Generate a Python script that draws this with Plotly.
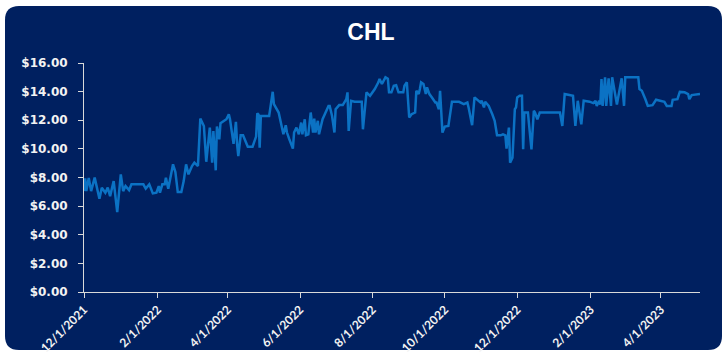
import plotly.graph_objects as go

# CHL closing price
dates = [
    "2021-12-01", "2021-12-02", "2021-12-03", "2021-12-05", "2021-12-07", "2021-12-10",
    "2021-12-14", "2021-12-16", "2021-12-19", "2021-12-21", "2021-12-23", "2021-12-26",
    "2021-12-29", "2022-01-01", "2022-01-03", "2022-01-05", "2022-01-08", "2022-01-10",
    "2022-01-20", "2022-01-22", "2022-01-25", "2022-01-28", "2022-01-31", "2022-02-02",
    "2022-02-03", "2022-02-05", "2022-02-07", "2022-02-08", "2022-02-10", "2022-02-14",
    "2022-02-16", "2022-02-18", "2022-02-21", "2022-02-23", "2022-02-25", "2022-02-27",
    "2022-03-02", "2022-03-04", "2022-03-07", "2022-03-09", "2022-03-12", "2022-03-14",
    "2022-03-17", "2022-03-19", "2022-03-20", "2022-03-22", "2022-03-23", "2022-03-25",
    "2022-03-26", "2022-03-29", "2022-03-31", "2022-04-02", "2022-04-03", "2022-04-06",
    "2022-04-08", "2022-04-09", "2022-04-10", "2022-04-12", "2022-04-14", "2022-04-18",
    "2022-04-22", "2022-04-25", "2022-04-26", "2022-04-27", "2022-04-28", "2022-04-29",
    "2022-05-06", "2022-05-09", "2022-05-10", "2022-05-14", "2022-05-16", "2022-05-18",
    "2022-05-20", "2022-05-21", "2022-05-23", "2022-05-26", "2022-05-27", "2022-05-29",
    "2022-05-31", "2022-06-02", "2022-06-03", "2022-06-05", "2022-06-06", "2022-06-08",
    "2022-06-10", "2022-06-12", "2022-06-13", "2022-06-14", "2022-06-16", "2022-06-17",
    "2022-06-20", "2022-06-22", "2022-06-25", "2022-06-26", "2022-06-28", "2022-06-30",
    "2022-07-01", "2022-07-04", "2022-07-07", "2022-07-10", "2022-07-11", "2022-07-12",
    "2022-07-14", "2022-07-17", "2022-07-23", "2022-07-24", "2022-07-27", "2022-07-30",
    "2022-08-01", "2022-08-03", "2022-08-06", "2022-08-07", "2022-08-09", "2022-08-11",
    "2022-08-12", "2022-08-14", "2022-08-15", "2022-08-17", "2022-08-19", "2022-08-21",
    "2022-08-23", "2022-08-27", "2022-08-28", "2022-08-30", "2022-09-01", "2022-09-03",
    "2022-09-06", "2022-09-07", "2022-09-09", "2022-09-10", "2022-09-11", "2022-09-13",
    "2022-09-15", "2022-09-16", "2022-09-18", "2022-09-20", "2022-09-23", "2022-09-24",
    "2022-09-26", "2022-09-27", "2022-09-29", "2022-10-01", "2022-10-04", "2022-10-07",
    "2022-10-13", "2022-10-17", "2022-10-20", "2022-10-21", "2022-10-24", "2022-10-26",
    "2022-10-31", "2022-11-01", "2022-11-03", "2022-11-04", "2022-11-07", "2022-11-10",
    "2022-11-12", "2022-11-14", "2022-11-17", "2022-11-19", "2022-11-21", "2022-11-22",
    "2022-11-24", "2022-11-25", "2022-11-27", "2022-11-29", "2022-11-30", "2022-12-01",
    "2022-12-03", "2022-12-05", "2022-12-06", "2022-12-07", "2022-12-10", "2022-12-13",
    "2022-12-15", "2022-12-16", "2022-12-18", "2022-12-20", "2022-12-26", "2022-12-30",
    "2023-01-04", "2023-01-06", "2023-01-08", "2023-01-10", "2023-01-14", "2023-01-17",
    "2023-01-19", "2023-01-21", "2023-01-24", "2023-01-26", "2023-01-31", "2023-02-03",
    "2023-02-05", "2023-02-06", "2023-02-08", "2023-02-09", "2023-02-10", "2023-02-11",
    "2023-02-13", "2023-02-14", "2023-02-16", "2023-02-18", "2023-02-19", "2023-02-23",
    "2023-02-27", "2023-03-01", "2023-03-02", "2023-03-13", "2023-03-14", "2023-03-16",
    "2023-03-19", "2023-03-21", "2023-03-25", "2023-03-28", "2023-04-04", "2023-04-06",
    "2023-04-10", "2023-04-11", "2023-04-15", "2023-04-17", "2023-04-21", "2023-04-24",
    "2023-04-25", "2023-04-27", "2023-05-04",
]

prices = [
    7.05, 7.94, 7.05, 7.96, 7.05, 7.99,
    6.52, 7.29, 6.94, 7.29, 6.70, 7.75,
    5.58, 8.22, 7.05, 7.40, 7.12, 7.52,
    7.52, 7.22, 7.52, 6.89, 6.94, 7.40,
    6.94, 7.52, 7.52, 7.99, 7.22, 8.92,
    8.38, 6.98, 6.98, 7.75, 8.92, 8.22,
    8.80, 9.04, 8.80, 12.12, 11.60, 9.10,
    11.49, 9.04, 11.25, 8.50, 11.56, 10.67,
    11.79, 11.96, 12.07, 12.42, 12.07, 10.35,
    11.89, 10.32, 9.50, 10.95, 10.95, 10.15,
    10.15, 10.86, 12.49, 12.40, 10.09, 12.30,
    12.30, 13.99, 13.13, 12.54, 11.84, 11.02,
    11.65, 11.14, 10.67, 10.02, 11.14, 11.49,
    11.02, 11.84, 11.02, 12.07, 10.95, 11.02,
    12.54, 11.14, 12.12, 11.14, 11.96, 11.02,
    12.07, 12.42, 13.00, 13.00, 12.30, 11.14,
    12.77, 13.06, 13.06, 13.47, 13.95, 11.25,
    13.36, 13.30, 13.30, 11.37, 13.95, 13.71,
    13.95, 14.18, 14.65, 14.88, 14.53, 14.93,
    15.00, 14.90, 13.95, 13.95, 14.41, 14.45,
    13.95, 13.95, 14.41, 14.65, 12.19, 12.42,
    12.54, 14.06, 13.83, 14.18, 14.65, 14.53,
    13.83, 14.30, 13.83, 13.60, 13.24, 13.24,
    12.77, 14.06, 11.14, 11.56, 11.60, 13.29,
    13.29, 13.13, 13.24, 12.90, 11.65, 13.60,
    13.24, 13.36, 12.90, 13.29, 13.00, 12.42,
    11.96, 10.95, 10.95, 11.02, 10.95, 10.02,
    11.49, 9.04, 9.39, 12.77, 12.90, 13.60,
    13.71, 13.71, 9.97, 12.54, 12.54, 9.97,
    12.66, 12.54, 12.07, 12.54, 12.54, 12.59,
    12.59, 12.54, 11.60, 13.83, 13.76, 13.71,
    11.60, 13.36, 11.72, 13.36, 13.30, 13.20,
    13.36, 13.00, 13.36, 13.10, 14.88, 13.00,
    15.00, 13.00, 14.93, 13.00, 15.00, 13.10,
    14.93, 13.00, 15.00, 15.00, 14.18, 14.06,
    13.47, 13.00, 13.05, 13.43, 13.29, 13.00,
    13.00, 13.43, 13.47, 13.98, 13.95, 13.83,
    13.47, 13.76, 13.83,
]

tick_dates = ["2021-12-01", "2022-02-01", "2022-04-01", "2022-06-01", "2022-08-01",
              "2022-10-01", "2022-12-01", "2023-02-01", "2023-04-01"]
tick_labels = ["12/1/2021", "2/1/2022", "4/1/2022", "6/1/2022", "8/1/2022",
               "10/1/2022", "12/1/2022", "2/1/2023", "4/1/2023"]
y_ticks = [0, 2, 4, 6, 8, 10, 12, 14, 16]
y_labels = ["$0.00", "$2.00", "$4.00", "$6.00", "$8.00", "$10.00", "$12.00", "$14.00", "$16.00"]

W, H = 728, 358
ML, MR, MT, MB = 84, 28, 63, 66
PW, PH = W - ML - MR, H - MT - MB

NAVY = "#002060"
LINE = "#0B72C4"
AXIS = "#D9D9D9"
LABEL = "#F2F2F2"


def px(x):
    return (x - ML) / PW


def py(y):
    return (H - MB - y) / PH


def rounded_rect(x0, y0, x1, y1, r):
    pts = [
        f"M {px(x0 + r)},{py(y0)}",
        f"L {px(x1 - r)},{py(y0)}",
        f"Q {px(x1)},{py(y0)} {px(x1)},{py(y0 + r)}",
        f"L {px(x1)},{py(y1 - r)}",
        f"Q {px(x1)},{py(y1)} {px(x1 - r)},{py(y1)}",
        f"L {px(x0 + r)},{py(y1)}",
        f"Q {px(x0)},{py(y1)} {px(x0)},{py(y1 - r)}",
        f"L {px(x0)},{py(y0 + r)}",
        f"Q {px(x0)},{py(y0)} {px(x0 + r)},{py(y0)}",
        "Z",
    ]
    return " ".join(pts)


fig = go.Figure()
fig.add_trace(go.Scatter(
    x=dates, y=prices, mode="lines",
    line=dict(color=LINE, width=2.5),
    hoverinfo="skip", showlegend=False,
))

fig.add_shape(
    type="path", xref="paper", yref="paper", layer="below",
    path=rounded_rect(5, 6, 722, 350, 14),
    fillcolor=NAVY, line=dict(width=0),
)

fig.update_layout(
    width=W, height=H,
    margin=dict(l=ML, r=MR, t=MT, b=MB, autoexpand=False),
    paper_bgcolor="white",
    plot_bgcolor="rgba(0,0,0,0)",
    title=dict(
        text="CHL", x=371 / W, xanchor="center", y=1 - 32 / H, yanchor="middle",
        font=dict(family="Liberation Sans, Arial", size=23, color="white", weight="bold"),
    ),
    xaxis=dict(
        type="date",
        range=["2021-12-01", "2023-05-04"],
        tickmode="array", tickvals=tick_dates, ticktext=tick_labels,
        tickangle=-45, automargin=False,
        ticks="outside", ticklen=5, tickcolor=AXIS, tickwidth=1,
        showline=True, linecolor=AXIS, linewidth=1,
        showgrid=False, zeroline=False,
        tickfont=dict(family="Lato", size=12, color=LABEL, weight="bold"),
        fixedrange=True,
    ),
    yaxis=dict(
        range=[0, 16], automargin=False,
        tickmode="array", tickvals=y_ticks, ticktext=y_labels,
        ticks="outside", ticklen=5, tickcolor=AXIS, tickwidth=1,
        ticklabelstandoff=8,
        showline=True, linecolor=AXIS, linewidth=1,
        showgrid=False, zeroline=False,
        tickfont=dict(family="DejaVu Sans", size=12, color=LABEL, weight="bold"),
        fixedrange=True,
    ),
)

fig.write_html("out.html", config={"displayModeBar": False})
